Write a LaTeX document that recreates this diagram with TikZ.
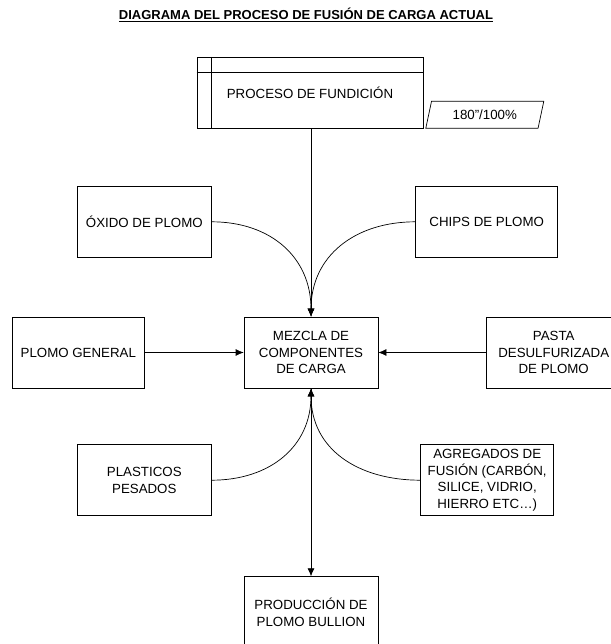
\documentclass[tikz,border=0pt]{standalone}
\usepackage{fontspec}
\setmainfont{Liberation Sans}
\usepackage{tikz}
\usetikzlibrary{shapes.geometric, positioning, arrows.meta}

\tikzset{
  caja/.style={draw, line width=0.7pt, minimum width=134pt, minimum height=71pt,
    inner sep=2pt, align=center, font=\fontsize{13.3}{16.8}\selectfont},
  flecha/.style={line width=0.7pt, -{Latex[length=8pt, width=7pt]}},
  linea/.style={line width=0.7pt}
}

\begin{document}
\begin{tikzpicture}
    \useasboundingbox (0,0) rectangle (610pt,-644pt);

    % Titulo
    \node [font=\bfseries\fontsize{13}{15}\selectfont] (Titulo) at (306pt,-15pt)
    {\underline{DIAGRAMA DEL PROCESO DE FUSIÓN DE CARGA ACTUAL}};%

    % Mezcla
    \node [caja] (Mezcla) at (311pt,-352.5pt) {MEZCLA DE\\COMPONENTES\\DE CARGA};%

    % Proceso de fundicion
    \node [caja, minimum width=226pt, above=188pt of Mezcla, xshift=-1pt]
    (Proceso) {PROCESO DE FUNDICIÓN};%
    \draw [linea] ([xshift=15pt]Proceso.north west) --
    ([xshift=15pt]Proceso.south west);%
    \draw [linea] ([yshift=-15pt]Proceso.north west) --
    ([yshift=-15pt]Proceso.north east);%
    \node [draw, line width=0.7pt, trapezium, trapezium left angle=64,
    trapezium right angle=116, trapezium stretches body, minimum width=118pt,
    minimum height=27pt, inner sep=1pt, font=\fontsize{13.3}{16}\selectfont,
    anchor=bottom left corner] (Tiempo) at ([xshift=2pt]Proceso.south east)
    {180''/100\%};%

    % Entradas superiores
    \node [caja, above left=59pt and 32pt of Mezcla] (Oxido) {ÓXIDO DE PLOMO};%
    \node [caja, minimum width=142pt, above right=59pt and 37pt of Mezcla]
    (Chips) {CHIPS DE PLOMO};%

    % Entradas laterales
    \node [caja, minimum width=132pt, left=99pt of Mezcla] (General)
    {PLOMO GENERAL};%
    \node [caja, right=108pt of Mezcla] (Pasta) {PASTA\\DESULFURIZADA\\DE PLOMO};%

    % Entradas inferiores
    \node [caja, below left=56pt and 32pt of Mezcla] (Plasticos)
    {PLASTICOS\\PESADOS};%
    \node [caja, minimum width=133pt, below right=56pt and 42pt of Mezcla]
    (Agregados) {AGREGADOS DE\\FUSIÓN (CARBÓN,\\SILICE, VIDRIO,\\HIERRO ETC…)};%

    % Produccion
    \node [caja, below=188pt of Mezcla] (Produccion)
    {PRODUCCIÓN DE\\PLOMO BULLION};%

    % flechas
    \draw [flecha] (Proceso.south -| Mezcla.north) -- (Mezcla.north);%
    \draw [flecha] (Oxido.east) to [out=0, in=90, looseness=1.1] (Mezcla.north);%
    \draw [flecha] (Chips.west) to [out=180, in=90, looseness=1.1] (Mezcla.north);%
    \draw [flecha] (General.east) -- (Mezcla.west);%
    \draw [flecha] (Pasta.west) -- (Mezcla.east);%
    \draw [flecha] (Plasticos.east) to [out=0, in=-90, looseness=1.1]
    (Mezcla.south);%
    \draw [flecha] (Agregados.west) to [out=180, in=-90, looseness=1.1]
    (Mezcla.south);%
    \draw [flecha] (Mezcla.south) -- (Produccion.north);%
\end{tikzpicture}
\end{document}
